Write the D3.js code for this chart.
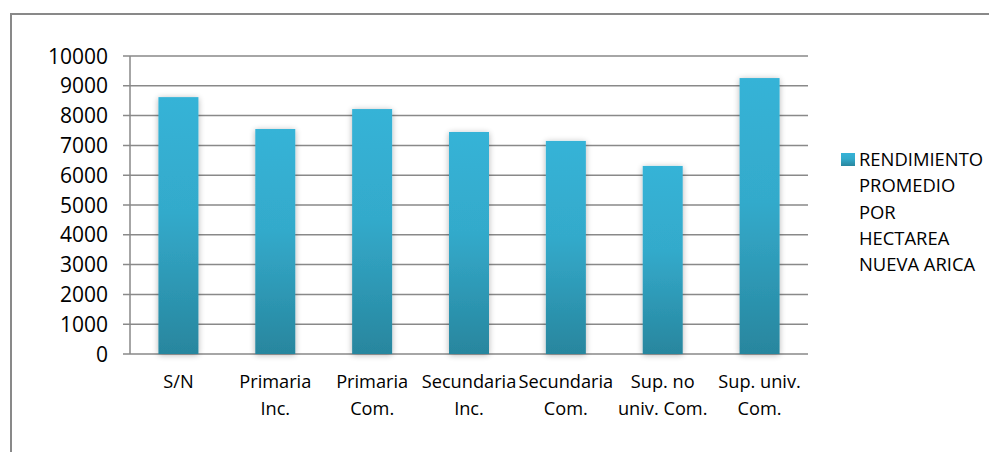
<!DOCTYPE html>
<html><head><meta charset="utf-8">
<script src="https://cdn.jsdelivr.net/npm/d3@7"></script>
<style>body{margin:0;background:#fff}svg{display:block}text{font-family:"Open Sans",sans-serif;fill:#000}</style>
</head><body>
<svg id="c" width="989" height="452"></svg>
<script>
const categories = [["S/N"],["Primaria","Inc."],["Primaria","Com."],["Secundaria","Inc."],["Secundaria","Com."],["Sup. no","univ. Com."],["Sup. univ.","Com."]];
const values = [8620, 7550, 8220, 7450, 7150, 6310, 9260];
const yTicks = [0,1000,2000,3000,4000,5000,6000,7000,8000,9000,10000];
const seriesName = ["RENDIMIENTO","PROMEDIO","POR","HECTAREA","NUEVA ARICA"];

const svg = d3.select("#c");
const defs = svg.append("defs");
const g1 = defs.append("linearGradient").attr("id","bg").attr("x1",0).attr("y1",0).attr("x2",0).attr("y2",1);
g1.append("stop").attr("offset","0").attr("stop-color","#36b3d7");
g1.append("stop").attr("offset","0.45").attr("stop-color","#33aacb");
g1.append("stop").attr("offset","1").attr("stop-color","#28869e");
const f = defs.append("filter").attr("id","sh").attr("x","-30%").attr("y","-10%").attr("width","160%").attr("height","120%");
f.append("feGaussianBlur").attr("in","SourceAlpha").attr("stdDeviation",3);
f.append("feOffset").attr("dx",0).attr("dy",1).attr("result","b");
f.append("feComponentTransfer").append("feFuncA").attr("type","linear").attr("slope",0.3);
const m = f.append("feMerge"); m.append("feMergeNode"); m.append("feMergeNode").attr("in","SourceGraphic");

// outer border
svg.append("rect").attr("x",11).attr("y",14).attr("width",1000).attr("height",500)
  .attr("fill","none").attr("stroke","#898989").attr("stroke-width",2);

const L=130, R=808, T=56, B=354;
const x = d3.scaleBand().domain(d3.range(categories.length)).range([L,R]).padding(0);
const y = d3.scaleLinear().domain([0,10000]).range([B,T]);

// gridlines
svg.append("g").selectAll("line").data(yTicks).join("line")
  .attr("x1",L-7).attr("x2",R).attr("y1",d=>y(d)).attr("y2",d=>y(d))
  .attr("stroke","#898989").attr("stroke-width",1.5);
// y axis line
svg.append("line").attr("x1",L).attr("x2",L).attr("y1",T).attr("y2",B).attr("stroke","#898989").attr("stroke-width",1.5);

// y labels
svg.append("g").selectAll("text").data(yTicks).join("text")
  .attr("x",108).attr("y",d=>y(d)).attr("dy","0.36em").attr("text-anchor","end")
  .style("font-size","21px").text(d=>d);

// bars
const bw = x.bandwidth()*0.413;
svg.append("g").selectAll("rect").data(values).join("rect")
  .attr("x",(d,i)=>x(i)+x.bandwidth()/2-bw/2).attr("width",bw)
  .attr("y",d=>y(d)).attr("height",d=>B-y(d))
  .attr("fill","url(#bg)").attr("filter","url(#sh)");

// category labels
const cl = svg.append("g").selectAll("text").data(categories).join("text")
  .attr("text-anchor","middle").style("font-size","18.2px")
  .attr("transform",(d,i)=>`translate(${x(i)+x.bandwidth()/2},388)`);
cl.selectAll("tspan").data(d=>d).join("tspan").attr("x",0).attr("dy",(d,i)=>i?27:0).text(d=>d);

// legend
const lgd = svg.append("g");
lgd.append("rect").attr("x",841).attr("y",153).attr("width",14).attr("height",13).attr("fill","url(#bg)");
const lt = lgd.append("text").attr("x",859).attr("y",166).style("font-size","18.4px");
lt.selectAll("tspan").data(seriesName).join("tspan").attr("x",859).attr("dy",(d,i)=>i?26.3:0).text(d=>d);
</script>
</body></html>
